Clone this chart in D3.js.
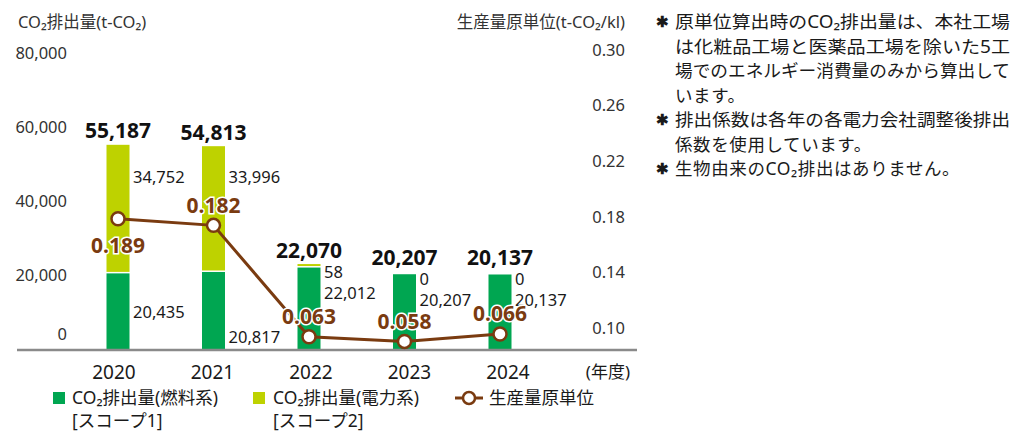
<!DOCTYPE html>
<html>
<head>
<meta charset="utf-8">
<script src="https://cdn.jsdelivr.net/npm/d3@7"></script>
<style>
  body { margin: 0; background: #fff; }
  svg { display: block; font-family: 'Noto Sans', 'Noto Sans CJK JP', sans-serif; }
</style>
</head>
<body>
<div id="chart"></div>
<script>
// *** data ***
var years = ['2020', '2021', '2022', '2023', '2024'];
var fuel = [20435, 20817, 22012, 20207, 20137];      // scope 1
var power = [34752, 33996, 58, 0, 0];                // scope 2
var totals = [55187, 54813, 22070, 20207, 20137];
var intensity = [0.189, 0.182, 0.063, 0.058, 0.066]; // t-CO2/kl
var leftTicks = [0, 20000, 40000, 60000, 80000];
var rightTicks = [0.10, 0.14, 0.18, 0.22, 0.26, 0.30];
var notes = [
    ['原単位算出時のCO₂排出量は、本社工場', 'は化粧品工場と医薬品工場を除いた5工', '場でのエネルギー消費量のみから算出して', 'います。'],
    ['排出係数は各年の各電力会社調整後排出', '係数を使用しています。'],
    ['生物由来のCO₂排出はありません。']
];

var GREEN = '#00a651', LIME = '#bed200', BROWN = '#7a3b10', TXT = '#1a1a1a', AXT = '#333';

var W = 1013, H = 431;
var svg = d3.select('#chart').append('svg').attr('width', W).attr('height', H);

// scales
var x = d3.scalePoint().domain(years).range([118, 500]);
var xLab = d3.scalePoint().domain(years).range([114, 508]);
var y = d3.scaleLinear().domain([0, 80000]).range([349, 53]);
var yR = d3.scaleLinear().domain([0.10, 0.30]).range([328, 50]);
// the line is not drawn on the right axis scale in the original, it has its own
var yLine = d3.scaleLinear().domain([0, 0.2]).range([395.7, 208.5]);
var barW = 23;

// *** axis titles ***
svg.append('text').attr('x', 18).attr('y', 22).attr('dy', '0.35em')
    .attr('font-size', 16.5).attr('fill', AXT).text('CO₂排出量(t-CO₂)');
svg.append('text').attr('x', 625).attr('y', 22).attr('dy', '0.35em')
    .attr('text-anchor', 'end').attr('font-size', 16.5).attr('fill', AXT)
    .text('生産量原単位(t-CO₂/kl)');

// left ticks, "0" sits a bit above the base line
svg.append('g').selectAll('text').data(leftTicks).enter().append('text')
    .attr('x', 67)
    .attr('y', function (d) { return y(d) - (d == 0 ? 15 : 0); })
    .attr('dy', '0.35em').attr('text-anchor', 'end')
    .attr('font-size', 16.5).attr('fill', AXT)
    .text(function (d) { return d3.format(',')(d); });

// right ticks
svg.append('g').selectAll('text').data(rightTicks).enter().append('text')
    .attr('x', 625).attr('y', function (d) { return yR(d); })
    .attr('dy', '0.35em').attr('text-anchor', 'end')
    .attr('font-size', 16.5).attr('fill', AXT)
    .text(function (d) { return d3.format('.2f')(d); });

// *** bars ***
var bars = svg.append('g');
years.forEach(function (yr, i) {
    var cx = x(yr);
    bars.append('rect')
        .attr('x', cx - barW / 2).attr('y', y(fuel[i]))
        .attr('width', barW).attr('height', y(0) - y(fuel[i]))
        .attr('fill', GREEN);
    if (power[i] > 0) {
        var top = Math.min(y(totals[i]), y(fuel[i]) - 1.5 - 2);
        bars.append('rect')
            .attr('x', cx - barW / 2).attr('y', top)
            .attr('width', barW).attr('height', y(fuel[i]) - 1.5 - top)
            .attr('fill', LIME);
    }
});

// base line
svg.append('line').attr('x1', 17).attr('x2', 637).attr('y1', 350).attr('y2', 350)
    .attr('stroke', '#8a8a8a').attr('stroke-width', 2.5);

// *** value labels ***
var labels = svg.append('g');
years.forEach(function (yr, i) {
    var cx = x(yr), lx = cx + barW / 2 + 3.5;
    var top = y(totals[i]);
    var small = y(0) - y(power[i]) < 40;

    labels.append('text').attr('x', cx).attr('y', top - (small ? 17 : 14)).attr('dy', '0.35em')
        .attr('text-anchor', 'middle').attr('font-size', 21).attr('font-weight', 'bold')
        .attr('fill', '#111').text(d3.format(',')(totals[i]));

    var yPow, yFuel;
    if (!small) {
        yPow = y(fuel[i] + power[i] * 0.75);
        yFuel = y(fuel[i] * 0.48);
        if (i == 1) yFuel += 25; // pushed down, 0.182 sits there
    } else {
        yPow = top + 5;
        yFuel = top + 26;
    }
    labels.append('text').attr('x', lx).attr('y', yPow).attr('dy', '0.35em')
        .attr('font-size', 16.5).attr('fill', TXT).text(d3.format(',')(power[i]));
    labels.append('text').attr('x', lx).attr('y', yFuel).attr('dy', '0.35em')
        .attr('font-size', 16.5).attr('fill', TXT).text(d3.format(',')(fuel[i]));
});

// *** intensity line ***
var pts = years.map(function (yr, i) { return [x(yr), yLine(intensity[i])]; });
svg.append('path').attr('d', d3.line()(pts))
    .attr('fill', 'none').attr('stroke', BROWN).attr('stroke-width', 3);
svg.append('g').selectAll('circle').data(pts).enter().append('circle')
    .attr('cx', function (d) { return d[0]; }).attr('cy', function (d) { return d[1]; })
    .attr('r', 6.5).attr('fill', '#fff').attr('stroke', BROWN).attr('stroke-width', 2.5);
svg.append('g').selectAll('text').data(intensity).enter().append('text')
    .attr('x', function (d, i) { return x(years[i]); })
    .attr('y', function (d, i) { return yLine(d) + (i == 0 ? 27 : -20); })
    .attr('dy', '0.35em').attr('text-anchor', 'middle')
    .attr('font-size', 21).attr('font-weight', 'bold').attr('fill', BROWN)
    .attr('stroke', '#fff').attr('stroke-width', 3).attr('paint-order', 'stroke')
    .text(function (d) { return d3.format('.3f')(d); });

// *** year labels ***
svg.append('g').selectAll('text').data(years).enter().append('text')
    .attr('x', function (d) { return xLab(d); }).attr('y', 372).attr('dy', '0.35em')
    .attr('text-anchor', 'middle').attr('font-size', 19).attr('fill', TXT)
    .text(function (d) { return d; });
svg.append('text').attr('x', 630).attr('y', 372).attr('dy', '0.35em')
    .attr('text-anchor', 'end').attr('font-size', 17).attr('fill', TXT).text('(年度)');

// *** legend ***
var lg = svg.append('g').attr('font-size', 17.5).attr('fill', TXT);
lg.append('rect').attr('x', 53).attr('y', 392).attr('width', 12).attr('height', 12).attr('fill', GREEN);
lg.append('text').attr('x', 72).attr('y', 398).attr('dy', '0.35em').text('CO₂排出量(燃料系)');
lg.append('text').attr('x', 72).attr('y', 421).attr('dy', '0.35em').text('[スコープ1]');
lg.append('rect').attr('x', 253).attr('y', 392).attr('width', 12).attr('height', 12).attr('fill', LIME);
lg.append('text').attr('x', 273).attr('y', 398).attr('dy', '0.35em').text('CO₂排出量(電力系)');
lg.append('text').attr('x', 273).attr('y', 421).attr('dy', '0.35em').text('[スコープ2]');
lg.append('line').attr('x1', 455).attr('x2', 483).attr('y1', 398).attr('y2', 398)
    .attr('stroke', BROWN).attr('stroke-width', 3);
lg.append('circle').attr('cx', 469).attr('cy', 398).attr('r', 6)
    .attr('fill', '#fff').attr('stroke', BROWN).attr('stroke-width', 2.5);
lg.append('text').attr('x', 489).attr('y', 398).attr('dy', '0.35em').text('生産量原単位');

// *** notes on the right ***
// every line but the last of a note runs to the right edge, so stretch those
var ng = svg.append('g').attr('font-size', 17.5).attr('fill', TXT);
var row = 0;
notes.forEach(function (lines) {
    ng.append('text').attr('x', 656).attr('y', 22 + row * 24.5).attr('dy', '0.35em')
        .attr('font-size', 15).attr('font-weight', 'bold').text('✱');
    lines.forEach(function (l, j) {
        var t = ng.append('text').attr('x', 675).attr('y', 22 + row * 24.5).attr('dy', '0.35em')
            .text(l);
        if (j < lines.length - 1) {
            t.attr('textLength', 335).attr('lengthAdjust', 'spacingAndGlyphs');
        } else {
            t.attr('letter-spacing', 0.6);
        }
        row++;
    });
});
</script>
</body>
</html>
